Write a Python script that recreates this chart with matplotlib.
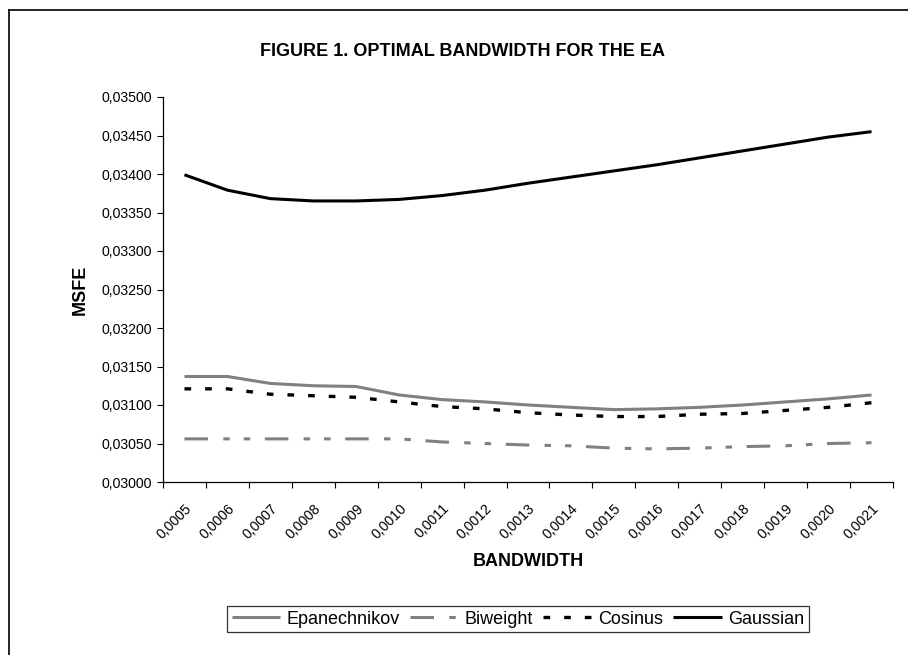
# -*- coding: utf-8 -*-
import numpy as np
import matplotlib
matplotlib.use('Agg')
import matplotlib.pyplot as plt
from matplotlib.lines import Line2D
from matplotlib.ticker import FuncFormatter

plt.rcParams['font.family'] = ['Liberation Sans', 'DejaVu Sans']

bandwidth = ['0,0005', '0,0006', '0,0007', '0,0008', '0,0009', '0,0010', '0,0011',
             '0,0012', '0,0013', '0,0014', '0,0015', '0,0016', '0,0017', '0,0018',
             '0,0019', '0,0020', '0,0021']

epanechnikov = [0.03137, 0.03137, 0.03128, 0.03125, 0.03124, 0.03113, 0.03107,
                0.03104, 0.03100, 0.03097, 0.03094, 0.03095, 0.03097, 0.03100,
                0.03104, 0.03108, 0.03113]
biweight = [0.03056, 0.03056, 0.03056, 0.03056, 0.03056, 0.03056, 0.03052,
            0.03050, 0.03048, 0.03047, 0.03044, 0.03043, 0.03044, 0.03046,
            0.03047, 0.03050, 0.03051]
cosinus = [0.03121, 0.03121, 0.03114, 0.03112, 0.03110, 0.03104, 0.03098,
           0.03095, 0.03090, 0.03087, 0.03085, 0.03085, 0.03088, 0.03089,
           0.03093, 0.03097, 0.03103]
gaussian = [0.03399, 0.03379, 0.03368, 0.03365, 0.03365, 0.03367, 0.03372,
            0.03379, 0.03388, 0.03396, 0.03404, 0.03412, 0.03421, 0.03430,
            0.03439, 0.03448, 0.03455]

W, H = 908, 655
fig = plt.figure(figsize=(W / 100, H / 100), dpi=100)
fig.patch.set_facecolor('white')

# plot area in pixels: left 163, right 893, top 97, bottom 482
ax = fig.add_axes([163 / W, 1 - 482 / H, 730 / W, 385 / H])

x = np.arange(len(bandwidth))
ax.plot(x, epanechnikov, color='#808080', lw=2.2, label='Epanechnikov', solid_capstyle='butt')
ax.plot(x, biweight, color='#808080', lw=2.2, label='Biweight',
        linestyle=(0, (7.7, 5, 2.1, 4.6, 2.1, 4.8)))
ax.plot(x, cosinus, color='black', lw=2.4, label='Cosinus', linestyle=(0, (2, 4.2)))
ax.plot(x, gaussian, color='black', lw=2.2, label='Gaussian', solid_capstyle='butt')

ax.set_xlim(-0.5, len(bandwidth) - 0.5)
ax.set_ylim(0.030, 0.035)
ax.set_yticks(np.arange(0.030, 0.03501, 0.0005))
ax.yaxis.set_major_formatter(FuncFormatter(lambda v, p: ('%.5f' % v).replace('.', ',')))

# boundary ticks as major, labels at category centres as minor
ax.set_xticks(np.arange(-0.5, len(bandwidth), 1.0))
ax.set_xticklabels([])
ax.set_xticks(x, minor=True)
ax.set_xticklabels(bandwidth, minor=True, rotation=45, ha='right', rotation_mode='anchor',
                   fontsize=10.2)
ax.tick_params(axis='x', which='minor', length=0, pad=14)
ax.tick_params(axis='x', which='major', length=4, width=0.8, direction='out')
ax.tick_params(axis='y', length=4, width=0.8, direction='out', pad=4, labelsize=10.2)

for s in ['top', 'right']:
    ax.spines[s].set_visible(False)
for s in ['left', 'bottom']:
    ax.spines[s].set_linewidth(0.9)

fig.text(463 / W, 1 - 52 / H, 'FIGURE 1. OPTIMAL BANDWIDTH FOR THE EA', ha='center', va='center',
         fontsize=13, fontweight='bold')
fig.text(528 / W, 1 - 562 / H, 'BANDWIDTH', ha='center', va='center', fontsize=13,
         fontweight='bold')
fig.text(80 / W, 1 - 290 / H, 'MSFE', ha='center', va='center', rotation=90, fontsize=13,
         fontweight='bold')

leg = ax.legend(loc='center', bbox_to_anchor=(518 / W, 1 - 619 / H), bbox_transform=fig.transFigure,
                ncol=4, fontsize=13, frameon=True, fancybox=False, handlelength=2.7,
                handletextpad=0.35, columnspacing=0.55, borderpad=0.25)
leg.get_frame().set_edgecolor('black')
leg.get_frame().set_linewidth(0.9)

# chart area border (left and top visible)
fig.add_artist(Line2D([9 / W, 9 / W], [0, 1 - 10 / H], transform=fig.transFigure, color='black', lw=1.2))
fig.add_artist(Line2D([9 / W, 1], [1 - 10 / H, 1 - 10 / H], transform=fig.transFigure, color='black', lw=1.2))

fig.savefig('out.png', dpi=100)
